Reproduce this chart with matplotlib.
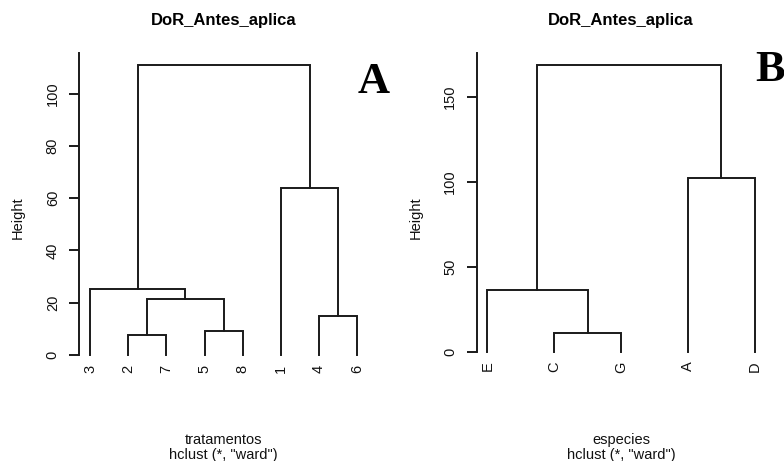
import matplotlib
matplotlib.use('Agg')
import matplotlib.pyplot as plt
from matplotlib.transforms import ScaledTranslation

plt.rcParams['font.family'] = ['Liberation Sans', 'DejaVu Sans']

# panel A: tratamentos (R-style merge matrix, negative = leaf)
labels_a = ['1', '2', '3', '4', '5', '6', '7', '8']
merge_a = [(-2, -7), (-5, -8), (-4, -6), (1, 2), (-3, 4), (-1, 3), (5, 6)]
heights_a = [7.7, 9.3, 15.0, 21.5, 25.2, 63.9, 111.0]
order_a = [3, 2, 7, 5, 8, 1, 4, 6]
yticks_a = [0, 20, 40, 60, 80, 100]

# panel B: especies
labels_b = ['A', 'C', 'D', 'E', 'G']
merge_b = [(-2, -5), (-4, 1), (-1, -3), (2, 3)]
heights_b = [10.8, 36.6, 102.4, 169.0]
order_b = [4, 2, 5, 1, 3]
yticks_b = [0, 50, 100, 150]

FS = 10.5
LC = '#1a1a1a'


def draw_dendro(ax, labels, merge, heights, order, yticks):
    pos = {leaf: i + 1 for i, leaf in enumerate(order)}
    node_x, node_h = {}, {}

    def coords(k):
        if k < 0:
            return pos[-k], 0.0
        return node_x[k], node_h[k]

    for i, (a, b) in enumerate(merge, start=1):
        xa, ha = coords(a)
        xb, hb = coords(b)
        h = heights[i - 1]
        ax.plot([xa, xa, xb, xb], [ha, h, h, hb], color=LC, lw=1.4,
                solid_joinstyle='miter')
        node_x[i] = (xa + xb) / 2
        node_h[i] = h

    n = len(order)
    ext = 0.04 * (n - 1)
    top = max(heights)
    ax.set_xlim(1 - ext, n + ext)
    ax.set_ylim(-0.04 * top, top * 1.04)

    off = ScaledTranslation(0, -9.5 / 100, ax.figure.dpi_scale_trans)
    for leaf in order:
        ax.text(pos[leaf], 0, labels[leaf - 1], rotation=90, ha='center', va='top',
                fontsize=FS, color='#111111', transform=ax.transData + off)

    for s in ['top', 'right', 'bottom']:
        ax.spines[s].set_visible(False)
    ax.spines['left'].set_bounds(0, top * 1.04)
    ax.spines['left'].set_linewidth(1.4)
    ax.spines['left'].set_color(LC)
    ax.set_xticks([])
    ax.set_yticks(yticks)
    ax.set_yticklabels([str(t) for t in yticks], rotation=90, va='center',
                       fontsize=FS, color='#111111')
    ax.tick_params(axis='y', length=7, width=1.4, pad=7, color=LC)


fig = plt.figure(figsize=(7.84, 4.61), dpi=100)

ax_a = fig.add_axes([79.3 / 784, 1 - 366.5 / 461, 288.7 / 784, 313.2 / 461])
draw_dendro(ax_a, labels_a, merge_a, heights_a, order_a, yticks_a)

ax_b = fig.add_axes([476.6 / 784, 1 - 363.1 / 461, 288.8 / 784, 309.8 / 461])
draw_dendro(ax_b, labels_b, merge_b, heights_b, order_b, yticks_b)

for cx, sub in [(223.7, 'tratamentos'), (621.0, 'especies')]:
    fig.text(cx / 784, 1 - 21 / 461, 'DoR_Antes_aplica', ha='center', va='center',
             fontsize=12, fontweight='bold', color='#000000')
    fig.text(cx / 784, 1 - 440 / 461, sub, ha='center', va='center',
             fontsize=FS, color='#111111')
    fig.text(cx / 784, 1 - 455 / 461, 'hclust (*, "ward")', ha='center', va='center',
             fontsize=FS, color='#111111')

for hx in [18, 415.7]:
    fig.text(hx / 784, 1 - 218 / 461, 'Height', rotation=90, ha='center', va='center',
             fontsize=FS, color='#111111')

fig.text(374 / 784, 1 - 82 / 461, 'A', ha='center', va='center', fontsize=32,
         fontweight='bold', family='Liberation Serif')
fig.text(770 / 784, 1 - 70 / 461, 'B', ha='center', va='center', fontsize=32,
         fontweight='bold', family='Liberation Serif')

fig.savefig('out.png', dpi=100)
